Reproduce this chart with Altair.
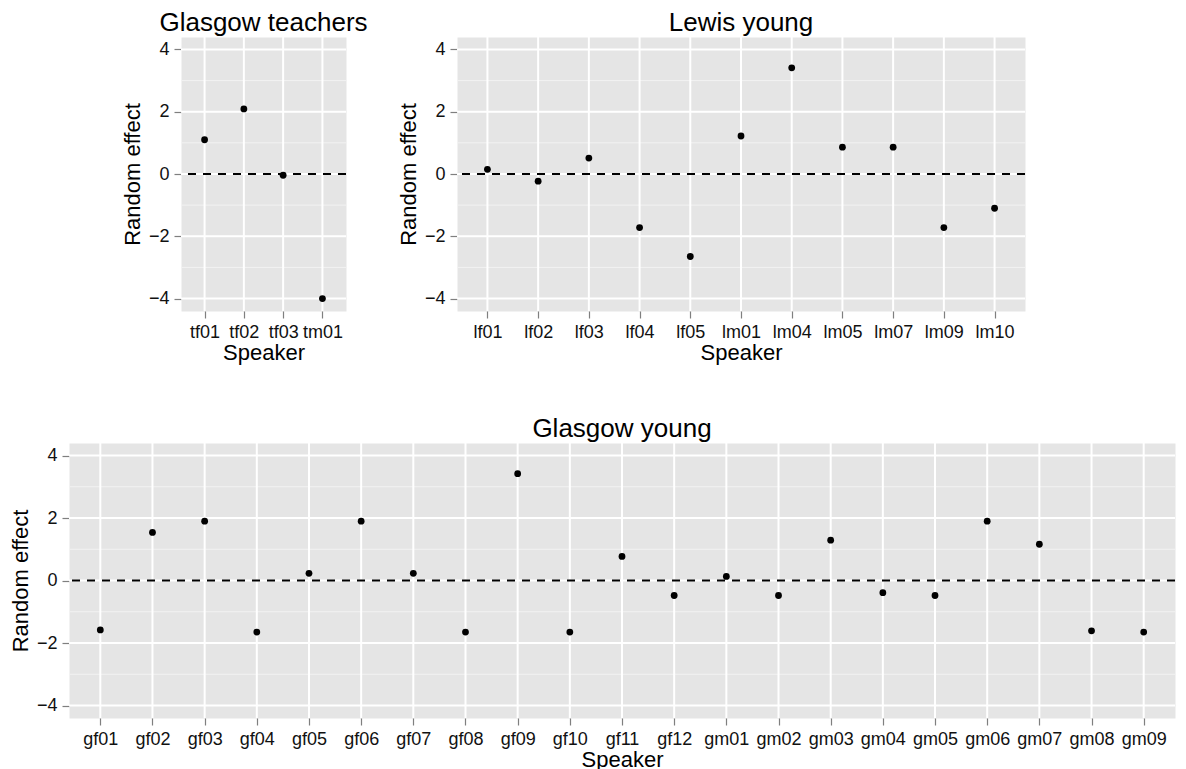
import altair as alt
import pandas as pd

# ---- data ----
teacher_speakers = ["tf01", "tf02", "tf03", "tm01"]
teacher_effects = [1.10, 2.09, -0.04, -4.00]

lewis_speakers = ["lf01", "lf02", "lf03", "lf04", "lf05", "lm01", "lm04",
                  "lm05", "lm07", "lm09", "lm10"]
lewis_effects = [0.15, -0.23, 0.51, -1.72, -2.65, 1.22, 3.41, 0.86, 0.86,
                 -1.72, -1.10]

glasgow_speakers = ["gf01", "gf02", "gf03", "gf04", "gf05", "gf06", "gf07",
                    "gf08", "gf09", "gf10", "gf11", "gf12", "gm01", "gm02",
                    "gm03", "gm04", "gm05", "gm06", "gm07", "gm08", "gm09"]
glasgow_effects = [-1.58, 1.54, 1.90, -1.65, 0.23, 1.90, 0.23, -1.65, 3.42,
                   -1.65, 0.77, -0.48, 0.13, -0.48, 1.29, -0.39, -0.48, 1.90,
                   1.16, -1.61, -1.65]

major_ticks = [-4, -2, 0, 2, 4]
minor_ticks = [-3, -1, 1, 3]
reference_line = [0]
y_domain = [-4.4, 4.4]

FONT = "Liberation Sans"


def panel(title, speakers, effects, width, height):
    df = pd.DataFrame({"Speaker": speakers, "effect": effects})
    xscale = alt.Scale(domain=speakers, type="point", padding=0.6)
    yscale = alt.Scale(domain=y_domain, nice=False, zero=False)

    xaxis = alt.Axis(title="Speaker", grid=False, domain=False,
                     tickSize=7, tickColor="#7F7F7F", tickWidth=1.2,
                     labelFont=FONT, labelFontSize=18, labelColor="#111111",
                     labelPadding=5, labelAngle=0,
                     titleFont=FONT, titleFontSize=22, titleFontWeight="normal",
                     titleColor="black", titlePadding=1)
    yaxis = alt.Axis(title="Random effect", values=major_ticks, grid=False,
                     domain=False, tickSize=7, tickColor="#7F7F7F",
                     tickWidth=1.2, labelFont=FONT, labelFontSize=18,
                     labelColor="#111111", labelPadding=5,
                     titleFont=FONT, titleFontSize=22,
                     titleFontWeight="normal", titleColor="black",
                     titleX=-49, titleY=height / 2, titleBaseline="middle")

    minor = alt.Chart(pd.DataFrame({"effect": minor_ticks})).mark_rule(
        color="#F2F2F2", strokeWidth=1).encode(
        y=alt.Y("effect:Q", scale=yscale, axis=yaxis))
    major = alt.Chart(pd.DataFrame({"effect": major_ticks})).mark_rule(
        color="white", strokeWidth=2).encode(
        y=alt.Y("effect:Q", scale=yscale, axis=yaxis))
    vert = alt.Chart(df).mark_rule(color="white", strokeWidth=2).encode(
        x=alt.X("Speaker:N", scale=xscale, axis=xaxis))
    zero = alt.Chart(pd.DataFrame({"effect": reference_line})).mark_rule(
        color="black", strokeDash=[8, 7], strokeWidth=1.8).encode(
        y=alt.Y("effect:Q", scale=yscale, axis=yaxis))
    pts = alt.Chart(df).mark_circle(size=46, color="black", opacity=1).encode(
        x=alt.X("Speaker:N", scale=xscale, axis=xaxis),
        y=alt.Y("effect:Q", scale=yscale, axis=yaxis))

    return alt.layer(minor, major, vert, zero, pts).properties(
        width=width, height=height,
        title=alt.TitleParams(text=title, font=FONT, fontSize=26,
                              fontWeight="normal", anchor="middle",
                              baseline="bottom", offset=-26, frame="group",
                              color="black"))


spacer = alt.Chart(pd.DataFrame({"a": [0]})).mark_point(opacity=0).encode(
    x=alt.value(0), y=alt.value(0)).properties(
    width=1, height=274,
    view=alt.ViewBackground(fill="transparent", stroke="transparent"))

left = panel("Glasgow teachers", teacher_speakers, teacher_effects, 165, 274)
right = panel("Lewis young", lewis_speakers, lewis_effects, 568, 274)
bottom = panel("Glasgow young", glasgow_speakers, glasgow_effects, 1106, 275)

top = alt.hconcat(spacer, left, right, spacing=111, bounds="flush")

chart = alt.vconcat(top, bottom, spacing=51).properties(
    padding={"left": 8, "top": 9, "right": 5, "bottom": 5},
    background="white"
).configure_view(fill="#E5E5E5", stroke="transparent")

chart.save("out.html", embed_options={"renderer": "svg", "actions": False})
